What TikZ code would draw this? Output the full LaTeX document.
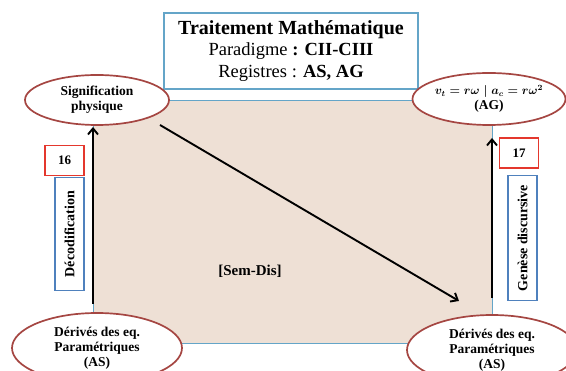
\documentclass[tikz,border=0pt]{standalone}
\usepackage{fontspec}
\setmainfont{Liberation Serif}
\usetikzlibrary{arrows.meta,shapes.geometric}
\definecolor{beige}{RGB}{238,224,213}
\definecolor{ellred}{RGB}{165,70,66}
\definecolor{boxblue}{RGB}{79,129,189}
\definecolor{titleblue}{RGB}{100,165,200}
\definecolor{lblred}{RGB}{228,55,45}
\begin{document}
\begin{tikzpicture}[x=1pt,y=-1pt,
  ell/.style={ellipse,draw=ellred,line width=1.7pt,fill=white,inner sep=0pt,font=\bfseries\fontsize{13.5}{15}\selectfont,align=center},
  numbox/.style={draw=lblred,line width=1.5pt,fill=white,minimum width=39pt,minimum height=30pt,inner sep=0pt,font=\bfseries\fontsize{13}{15}\selectfont},
  vbox/.style={draw=boxblue,line width=1.5pt,fill=white,minimum width=29pt,inner sep=0pt,font=\bfseries\fontsize{14}{16}\selectfont},
  flow/.style={line width=1.9pt,-{Straight Barb[length=6pt,width=10pt]}}]
\useasboundingbox (0,0) rectangle (566,371);
% main area
\node[draw=titleblue,line width=0.6pt,fill=beige,minimum width=399pt,minimum height=243pt,anchor=north west,inner sep=0pt] (area) at (93,100) {};
% title
\node[draw=titleblue,line width=1.5pt,fill=white,minimum width=254pt,minimum height=76pt,inner sep=0pt,align=center,font=\fontsize{18.5}{21.5}\selectfont] (title) at (291,51)
 {{\bfseries\fontsize{20}{21.5}\selectfont Traitement Mathématique}\\
  Paradigme \textbf{: CII-CIII}\\
  Registres : \textbf{AS, AG}};
% ellipses
\node[ell,minimum width=144pt,minimum height=50pt] (sig) at (97,100) {Signification\\physique};
\node[ell,minimum width=153pt,minimum height=52pt] (ag) at (489,99) {\mbox{\fontsize{11.5}{13}\selectfont\boldmath$v_t = r\omega \mid a_c = r\omega^2$}\\{(AG)}};
\node[ell,minimum width=170pt,minimum height=70pt] (dl) at (97,348) {Dérivés des eq.\\Paramétriques\\{(AS)}};
\node[ell,minimum width=170pt,minimum height=70pt] (dr) at (492,350) {Dérivés des eq.\\Paramétriques\\{(AS)}};
% label boxes
\node[numbox] (n16) at (64.5,160.5) {16};
\node[numbox] (n17) at (519,153) {17};
\node[vbox,minimum height=113pt] (dec) at (69.5,234) {\rotatebox{90}{Décodification}};
\node[vbox,minimum height=125pt] (gen) at (522.5,238) {\rotatebox{90}{Genèse discursive}};
% text
\node[font=\bfseries\fontsize{15}{17}\selectfont] (sd) at (250,271) {[Sem-Dis]};
% arrows
\coordinate (l0) at (93,304);
\coordinate (l1) at (93,127);
\coordinate (r0) at (492,298);
\coordinate (r1) at (492,138);
\coordinate (d0) at (160,125);
\coordinate (d1) at (459,301);
\draw[flow] (l0) -- (l1);
\draw[flow] (r0) -- (r1);
\draw[flow] (d0) -- (d1);
\end{tikzpicture}
\end{document}
